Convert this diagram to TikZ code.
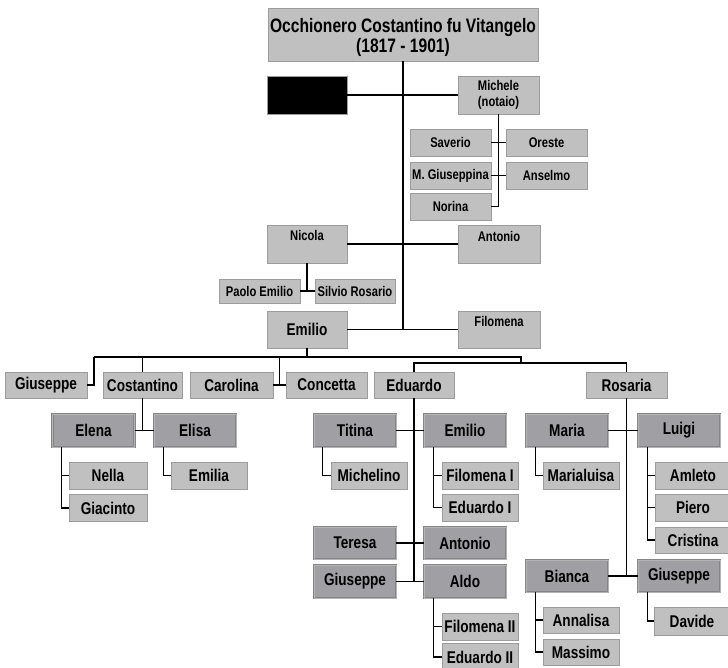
\documentclass[tikz,border=0pt]{standalone}
\usepackage{fontspec}
\setmainfont{Liberation Sans}[FakeStretch=0.8]

\definecolor{boxfill}{HTML}{C0C0C0}
\definecolor{boxedge}{HTML}{9C9C9C}
\definecolor{darkfill}{HTML}{A0A0A4}
\definecolor{darkedge}{HTML}{858585}
\definecolor{darkinner}{HTML}{B4B4B4}

\begin{document}
\begin{tikzpicture}[x=1pt,y=-1pt,
  lite/.style={draw=boxedge, fill=boxfill, line width=0.9pt, inner sep=0pt,
    align=center, minimum width=81pt, minimum height=27pt,
    font=\bfseries\fontsize{17}{19}\selectfont},
  dark/.style={lite, fill=darkfill, draw=darkedge, double=darkinner,
    double distance=0.6pt, line width=0.8pt, minimum width=82pt, minimum height=33pt},
  small/.style={font=\bfseries\fontsize{14}{15.5}\selectfont},
  kid/.style={lite, minimum width=76pt},
  link/.style={line width=1.2pt}]
  \useasboundingbox (0,0) rectangle (728,668);

  % capostipite
  \node[lite, minimum width=270pt, minimum height=53pt] (root) at (403,34.5) {};
  \node[align=center, inner sep=0pt, font=\bfseries\fontsize{19.5}{20}\selectfont]
    (root-t) at ([yshift=-30pt]root.north) {Occhionero Costantino fu Vitangelo\\(1817 - 1901)};

  % primi figli
  \node[lite, fill=black, minimum width=80pt, minimum height=38pt] (ignota) at (307,95) {};
  \node[lite, small, minimum height=38pt] (michele) at (498.5,95) {Michele\\(notaio)};
  \node[lite, minimum width=80pt, minimum height=38pt] (nicola) at (307,244) {};
  \node[small] (nicola-t) at ([yshift=-11pt]nicola.north) {Nicola};
  \node[lite, minimum width=82pt, minimum height=38pt] (antonio) at (499,244) {};
  \node[small] (antonio-t) at ([yshift=-12pt]antonio.north) {Antonio};
  \node[lite, minimum width=80pt, minimum height=37pt] (emilio) at (307,329.5) {Emilio};
  \node[lite, minimum width=82pt, minimum height=37pt] (filomena) at (499,329.5) {};
  \node[small] (filomena-t) at ([yshift=-11pt]filomena.north) {Filomena};

  % figli di Michele
  \node[lite, small] (saverio) at (450.5,142.5) {Saverio};
  \node[lite, small] (oreste) at (546.5,142.5) {Oreste};
  \node[lite, small] (mgiuseppina) at (450.5,175.5) {M. Giuseppina};
  \node[lite, small] (anselmo) at (546.5,175.5) {Anselmo};
  \node[lite, small] (norina) at (450.5,206.5) {Norina};

  % figli di Nicola
  \node[lite, small, minimum height=24pt] (paolo) at (259.5,291) {Paolo Emilio};
  \node[lite, small, minimum width=80pt, minimum height=24pt] (silvio) at (355,291) {Silvio Rosario};

  % figli di Emilio
  \node[lite, minimum width=82pt, minimum height=26pt] (giuseppe) at (46,385) {Giuseppe};
  \node[lite, minimum width=79pt, minimum height=26pt] (costantino) at (142.5,385) {Costantino};
  \node[lite, minimum width=83pt, minimum height=26pt] (carolina) at (231.5,385) {Carolina};
  \node[lite, minimum height=26pt] (concetta) at (326.5,385) {Concetta};
  \node[lite, minimum width=80pt, minimum height=26pt] (eduardo) at (414,385) {Eduardo};
  \node[lite, minimum height=26pt] (rosaria) at (626.5,385) {Rosaria};

  % nipoti
  \node[dark] (elena) at (93.5,430.5) {Elena};
  \node[dark] (elisa) at (195,430.5) {Elisa};
  \node[dark] (titina) at (355,430.5) {Titina};
  \node[dark] (emilio2) at (465,430.5) {Emilio};
  \node[dark] (maria) at (567,430.5) {Maria};
  \node[dark] (luigi) at (679,430.5) {Luigi};
  \node[dark, minimum height=32pt] (teresa) at (355,543) {Teresa};
  \node[dark, minimum height=32pt] (antonio2) at (465,543) {Antonio};
  \node[dark] (giuseppe2) at (355,581.5) {Giuseppe};
  \node[dark] (aldo) at (465,581.5) {Aldo};
  \node[dark, minimum height=32pt] (bianca) at (567,576) {Bianca};
  \node[dark, minimum height=32pt] (giuseppe3) at (679,576) {Giuseppe};

  % pronipoti
  \node[kid, minimum width=78pt] (nella) at (108,475.5) {Nella};
  \node[kid, minimum width=78pt] (giacinto) at (108,508) {Giacinto};
  \node[kid] (emilia) at (209,475.5) {Emilia};
  \node[kid] (michelino) at (369,475.5) {Michelino};
  \node[kid] (filomenaI) at (480,475.5) {Filomena I};
  \node[kid] (eduardoI) at (480,507.5) {Eduardo I};
  \node[kid] (filomenaII) at (480,626.5) {Filomena II};
  \node[kid] (eduardoII) at (480,657) {Eduardo II};
  \node[kid] (marialuisa) at (581,475.5) {Marialuisa};
  \node[kid] (amleto) at (693,475.5) {Amleto};
  \node[kid] (piero) at (693,507.5) {Piero};
  \node[kid, minimum height=26pt] (cristina) at (693,540) {Cristina};
  \node[kid, minimum height=26pt] (annalisa) at (581,620) {Annalisa};
  \node[kid, minimum height=26pt] (massimo) at (581,652) {Massimo};
  \node[kid, minimum height=28pt] (davide) at (692,621) {Davide};

  % tronco
  \draw[link] (root.south) -- (root.south |- filomena.west);
  \draw[link] (ignota) -- (michele);
  \draw[link] (nicola) -- (antonio);
  \draw[link] (emilio) -- (filomena);

  % Michele
  \draw[link] (michele.south) |- (norina.east);
  \draw[link] (saverio) -- (oreste);
  \draw[link] (mgiuseppina) -- (anselmo);

  % Nicola
  \draw[link] (nicola.south) -- (nicola.south |- paolo.east);
  \draw[link] (paolo) -- (silvio);

  % Emilio
  \coordinate (barL) at (94,357);
  \coordinate (barR) at (521,357);
  \coordinate (barR2) at (521,363);
  \coordinate (caco) at (279.5,385);
  \draw[link] (emilio.south) -- (emilio.south |- barL);
  \draw[link] (barL) -- (barR) -- (barR2);
  \draw[link] (barL) |- (giuseppe.east);
  \draw[link] (costantino.north |- barL) -- (costantino.north);
  \draw[link] (caco |- barL) -- (caco);
  \draw[link] (carolina) -- (concetta);
  \draw[link] (eduardo.north) |- (barR2) -| (rosaria.north);

  % Costantino
  \draw[link] (costantino.south) -- (costantino.south |- elena.east);
  \draw[link] (elena) -- (elisa);
  \coordinate (elenaV) at ([xshift=-7pt]giacinto.west);
  \draw[link] (elenaV |- elena.south) |- (giacinto.west);
  \draw[link] (elenaV |- nella.west) -- (nella.west);
  \coordinate (elisaV) at ([xshift=-7pt]emilia.west);
  \draw[link] (elisaV |- elisa.south) |- (emilia.west);

  % Eduardo
  \draw[link] (eduardo.south) -- (eduardo.south |- giuseppe2.east);
  \draw[link] (titina) -- (emilio2);
  \draw[link] (teresa) -- (antonio2);
  \draw[link] (giuseppe2) -- (aldo);
  \coordinate (titinaV) at ([xshift=-8pt]michelino.west);
  \draw[link] (titinaV |- titina.south) |- (michelino.west);
  \coordinate (emilioV) at ([xshift=-8pt]eduardoI.west);
  \draw[link] (emilioV |- emilio2.south) |- (eduardoI.west);
  \draw[link] (emilioV |- filomenaI.west) -- (filomenaI.west);
  \coordinate (aldoV) at ([xshift=-8pt]eduardoII.west);
  \draw[link] (aldoV |- aldo.south) |- (eduardoII.west);
  \draw[link] (aldoV |- filomenaII.west) -- (filomenaII.west);

  % Rosaria
  \draw[link] (rosaria.south) -- (rosaria.south |- bianca.east);
  \draw[link] (maria) -- (luigi);
  \draw[link] (bianca) -- (giuseppe3);
  \coordinate (mariaV) at ([xshift=-7pt]marialuisa.west);
  \draw[link] (mariaV |- maria.south) |- (marialuisa.west);
  \coordinate (luigiV) at ([xshift=-7pt]cristina.west);
  \draw[link] (luigiV |- luigi.south) |- (cristina.west);
  \draw[link] (luigiV |- amleto.west) -- (amleto.west);
  \draw[link] (luigiV |- piero.west) -- (piero.west);
  \coordinate (biancaV) at ([xshift=-7pt]massimo.west);
  \draw[link] (biancaV |- bianca.south) |- (massimo.west);
  \draw[link] (biancaV |- annalisa.west) -- (annalisa.west);
  \coordinate (giuseppeV) at ([xshift=-6pt]davide.west);
  \draw[link] (giuseppeV |- giuseppe3.south) |- (davide.west);
\end{tikzpicture}
\end{document}
